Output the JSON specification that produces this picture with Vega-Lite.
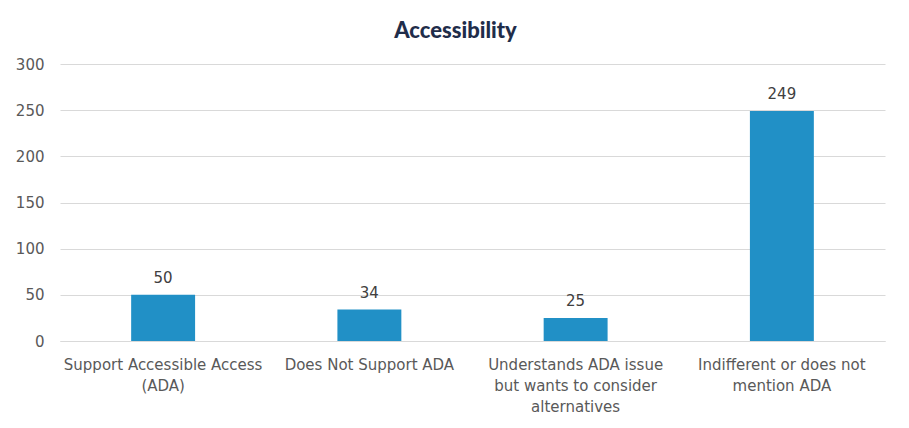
{
  "$schema": "https://vega.github.io/schema/vega-lite/v6.json",
  "width": 825,
  "height": 277,
  "autosize": "none",
  "padding": {"left": 60, "top": 64, "right": 24, "bottom": 87},
  "background": "white",
  "title": {
    "text": "Accessibility",
    "font": "Lato",
    "fontSize": 22,
    "fontWeight": 900,
    "color": "#1f2d4a",
    "anchor": "middle",
    "dx": -17,
    "offset": 14
  },
  "data": {
    "values": [
      {"category": "Support Accessible Access|(ADA)", "count": 50},
      {"category": "Does Not Support ADA", "count": 34},
      {"category": "Understands ADA issue|but wants to consider|alternatives", "count": 25},
      {"category": "Indifferent or does not|mention ADA", "count": 249}
    ]
  },
  "encoding": {
    "x": {
      "field": "category",
      "type": "nominal",
      "sort": null,
      "scale": {"paddingInner": 0.69, "paddingOuter": 0.345},
      "axis": {
        "title": null,
        "labelAngle": 0,
        "labelExpr": "split(datum.label, '|')",
        "labelFont": "DejaVu Sans",
        "labelFontSize": 15,
        "labelColor": "#595959",
        "labelLineHeight": 21,
        "labelPadding": 16,
        "labelLimit": 300,
        "ticks": false,
        "domainColor": "#d9d9d9",
        "domainWidth": 1
      }
    },
    "y": {
      "field": "count",
      "type": "quantitative",
      "scale": {"domain": [0, 300]},
      "axis": {
        "title": null,
        "values": [0, 50, 100, 150, 200, 250, 300],
        "labelFont": "DejaVu Sans",
        "labelFontSize": 15,
        "labelColor": "#595959",
        "labelPadding": 16,
        "ticks": false,
        "domain": false,
        "gridColor": "#d9d9d9",
        "gridWidth": 1
      }
    }
  },
  "layer": [
    {"mark": {"type": "bar", "color": "#2190c6"}},
    {
      "mark": {"type": "text", "baseline": "bottom", "dy": -9, "font": "DejaVu Sans", "fontSize": 15, "color": "#404040"},
      "encoding": {"text": {"field": "count", "type": "quantitative"}}
    }
  ],
  "config": {"view": {"stroke": null}}
}
